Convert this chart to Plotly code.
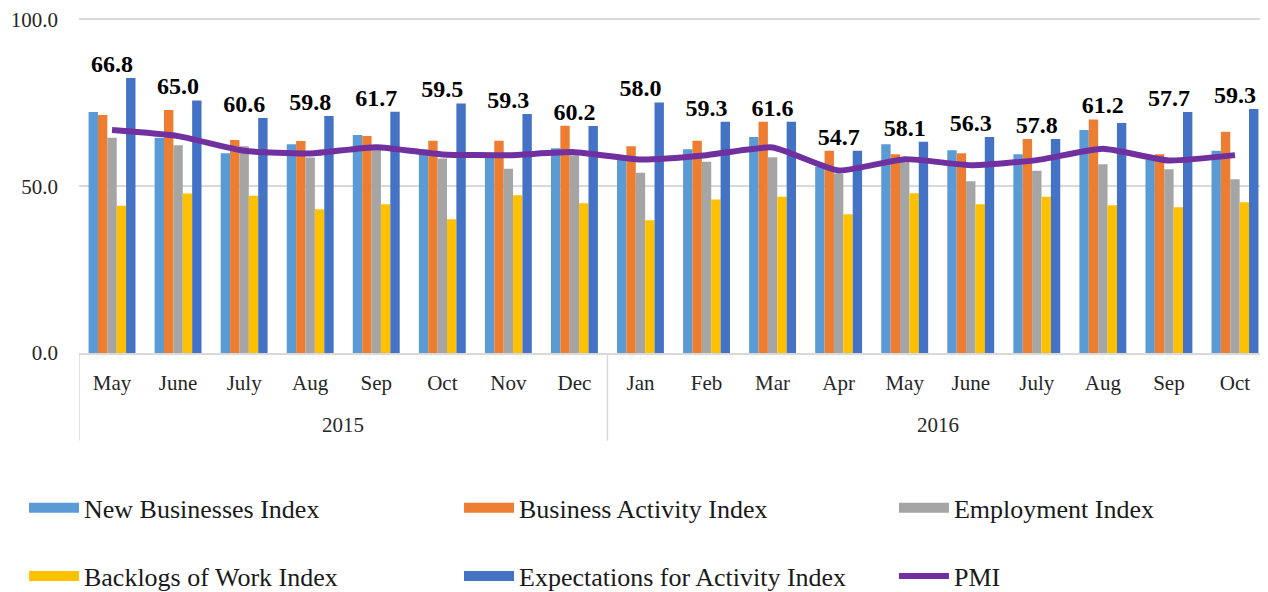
import plotly.graph_objects as go

months = ["May", "June", "July", "Aug", "Sep", "Oct", "Nov", "Dec",
          "Jan", "Feb", "Mar", "Apr", "May", "June", "July", "Aug", "Sep", "Oct"]
years = ["2015"] * 8 + ["2016"] * 10
year_labels = ["2015", "2016"]

new_businesses = [72.2, 64.5, 59.9, 62.6, 65.3, 61.0, 58.8, 61.4, 58.5, 61.1,
                  64.7, 55.8, 62.6, 60.8, 59.6, 66.8, 58.0, 60.6]
business_activity = [71.3, 72.8, 63.8, 63.5, 65.0, 63.6, 63.6, 68.1, 62.0, 63.6,
                     69.3, 60.6, 59.6, 59.9, 64.1, 70.0, 59.6, 66.3]
employment = [64.5, 62.3, 62.0, 58.6, 61.3, 58.3, 55.2, 59.3, 54.0, 57.3,
              58.7, 53.8, 57.8, 51.5, 54.6, 56.6, 55.1, 52.1]
backlogs = [44.1, 47.8, 47.1, 43.1, 44.6, 40.1, 47.3, 44.9, 39.8, 46.0,
            46.8, 41.6, 47.9, 44.6, 46.8, 44.3, 43.7, 45.2]
expectations = [82.4, 75.7, 70.4, 71.0, 72.3, 74.8, 71.6, 68.0, 75.1, 69.3,
                69.3, 60.6, 63.3, 64.7, 64.1, 68.9, 72.2, 73.1]
pmi = [66.8, 65.0, 60.6, 59.8, 61.7, 59.5, 59.3, 60.2, 58.0, 59.3,
       61.6, 54.7, 58.1, 56.3, 57.8, 61.2, 57.7, 59.3]
y_ticks = [0, 50, 100]

FONT = "Liberation Serif"
TXT = "#262626"
cats = [f"{y} {m}" for y, m in zip(years, months)]

fig = go.Figure()
series = [
    ("New Businesses Index", new_businesses, "#5B9BD5", "legend"),
    ("Business Activity Index", business_activity, "#ED7D31", "legend2"),
    ("Employment Index", employment, "#A5A5A5", "legend3"),
    ("Backlogs of Work Index", backlogs, "#FFC000", "legend4"),
    ("Expectations for Activity Index", expectations, "#4472C4", "legend5"),
]
for name, vals, col, lg in series:
    fig.add_trace(go.Bar(x=cats, y=vals, name=name, marker=dict(color=col, line_width=0),
                         showlegend=False))
    # legend-only swatch drawn as a wide rectangle
    fig.add_trace(go.Scatter(x=[None], y=[None], mode="lines", name=name,
                             line=dict(color=col, width=14), legend=lg, hoverinfo="skip"))

fig.add_trace(go.Scatter(x=cats, y=pmi, name="PMI", mode="lines",
                         line=dict(color="#7030A0", width=6, shape="spline", smoothing=0.5),
                         legend="legend6"))

label_y = [max(v) for v in zip(new_businesses, business_activity, employment, backlogs, expectations)]
fig.add_trace(go.Scatter(x=cats, y=label_y, mode="text", text=[f"{v:.1f}" for v in pmi],
                         texttemplate="<b>%{text}</b>", textposition="top center",
                         textfont=dict(family=FONT, size=24, color="#000000"),
                         showlegend=False, hoverinfo="skip"))

# year group labels and dividers of the two-level category axis
n2015 = years.count("2015")
group_bounds = [(-0.5, n2015 - 0.5), (n2015 - 0.5, len(cats) - 0.5)]
annotations = []
shapes = []
for lab, (a, b) in zip(year_labels, group_bounds):
    annotations.append(dict(x=(a + b) / 2, y=-0.215, xref="x", yref="paper", text=lab,
                            showarrow=False, font=dict(family=FONT, size=21, color=TXT),
                            yanchor="middle"))
for xv in [-0.5, n2015 - 0.5, len(cats) - 0.5]:
    shapes.append(dict(type="line", xref="x", yref="paper", x0=xv, x1=xv, y0=0, y1=-0.262,
                       line=dict(color="#D9D9D9", width=1.5)))

leg_common = dict(orientation="h", xref="container", yref="container", xanchor="left",
                  yanchor="middle", itemwidth=50, bgcolor="rgba(0,0,0,0)",
                  font=dict(family=FONT, size=26, color="#1A1A1A"))
cols = [0.0126, 0.3557, 0.6987]
rows = [0.1555, 0.0405]
legs = {}
for i in range(6):
    key = "legend" if i == 0 else f"legend{i + 1}"
    legs[key] = dict(leg_common, x=cols[i % 3], y=rows[i // 3])

fig.update_layout(
    width=1268, height=592,
    margin=dict(l=71, r=8, t=10, b=247, autoexpand=False),
    paper_bgcolor="white", plot_bgcolor="white",
    barmode="group", bargap=0.29, bargroupgap=0,
    font=dict(family=FONT, size=21, color=TXT),
    annotations=annotations, shapes=shapes,
    showlegend=True,
    **legs,
)
fig.update_yaxes(range=[0, 100.4], tickvals=y_ticks, tickformat=".1f",
                 showgrid=True, gridcolor="#D9D9D9", gridwidth=1.5, automargin=False,
                 zeroline=False, showline=False, ticks="", ticklabelstandoff=20,
                 ticklabeloverflow="allow",
                 tickfont=dict(family=FONT, size=21, color=TXT))
fig.update_xaxes(type="category", tickvals=cats, ticktext=months, automargin=False,
                 range=[-0.5, len(cats) - 0.5],
                 showline=True, linecolor="#D9D9D9", linewidth=1.5,
                 ticks="", ticklabelstandoff=10,
                 tickfont=dict(family=FONT, size=21, color=TXT))

fig.write_html("out.html")
